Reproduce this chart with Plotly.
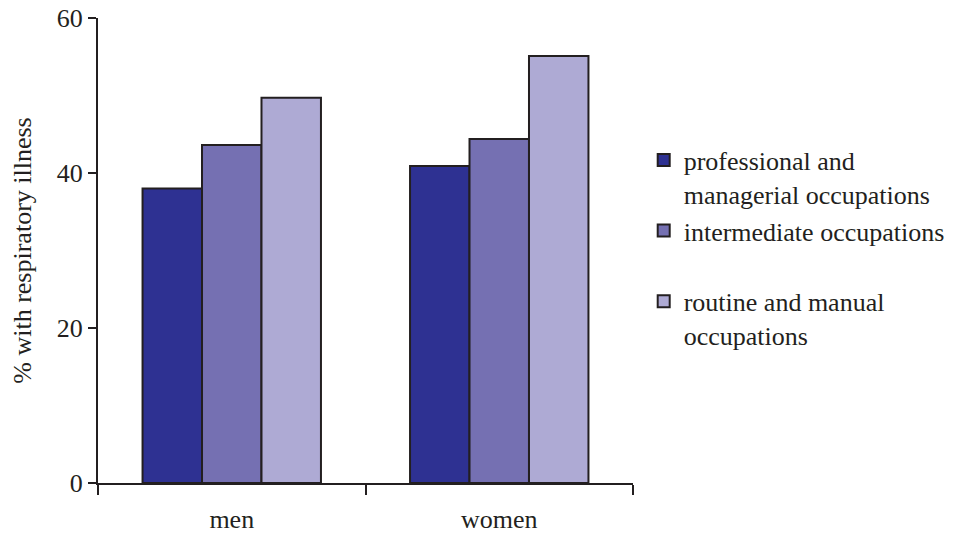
import plotly.graph_objects as go

categories = ["men", "women"]
series_names = [
    "professional and<br>managerial occupations",
    "intermediate occupations<br> ",
    "routine and manual<br>occupations",
]
professional = [38.0, 40.9]
intermediate = [43.6, 44.4]
routine = [49.7, 55.1]
y_ticks = [0, 20, 40, 60]

colors = ["#2E3192", "#7570B2", "#AEAAD4"]
values = [professional, intermediate, routine]
ink = "#231F20"
font_family = "Liberation Serif"

fig = go.Figure()
for name, vals, col in zip(series_names, values, colors):
    fig.add_trace(go.Bar(
        x=categories, y=vals, name=name,
        marker=dict(color=col, line=dict(color=ink, width=2)),
    ))

fig.update_layout(
    width=956, height=538,
    margin=dict(l=98, r=323, t=18, b=55, autoexpand=False),
    paper_bgcolor="white", plot_bgcolor="white",
    barmode="group", bargap=0.333, bargroupgap=0,
    font=dict(family=font_family, size=26, color=ink),
    showlegend=True,
    legend=dict(
        x=1.02, y=0.745, xanchor="left", yanchor="top",
        valign="top", tracegroupgap=2,
        font=dict(family=font_family, size=26, color=ink),
        itemwidth=30,
    ),
    xaxis=dict(
        range=[-0.5, 1.5], showline=True, linecolor=ink, linewidth=2,
        ticks="outside", tickson="boundaries", ticklen=10, tickwidth=2,
        tickcolor=ink, showgrid=False, zeroline=False, automargin=False,
        tickfont=dict(size=26), ticklabelstandoff=12,
    ),
    yaxis=dict(
        range=[0, 60], tickvals=y_ticks, showline=True, linecolor=ink,
        linewidth=2, ticks="outside", ticklen=8, tickwidth=2, tickcolor=ink,
        showgrid=False, zeroline=False, tickfont=dict(size=26), automargin=False,
        title=dict(text="% with respiratory illness", font=dict(size=26),
                   standoff=18),
    ),
)

fig.write_html("out.html")
